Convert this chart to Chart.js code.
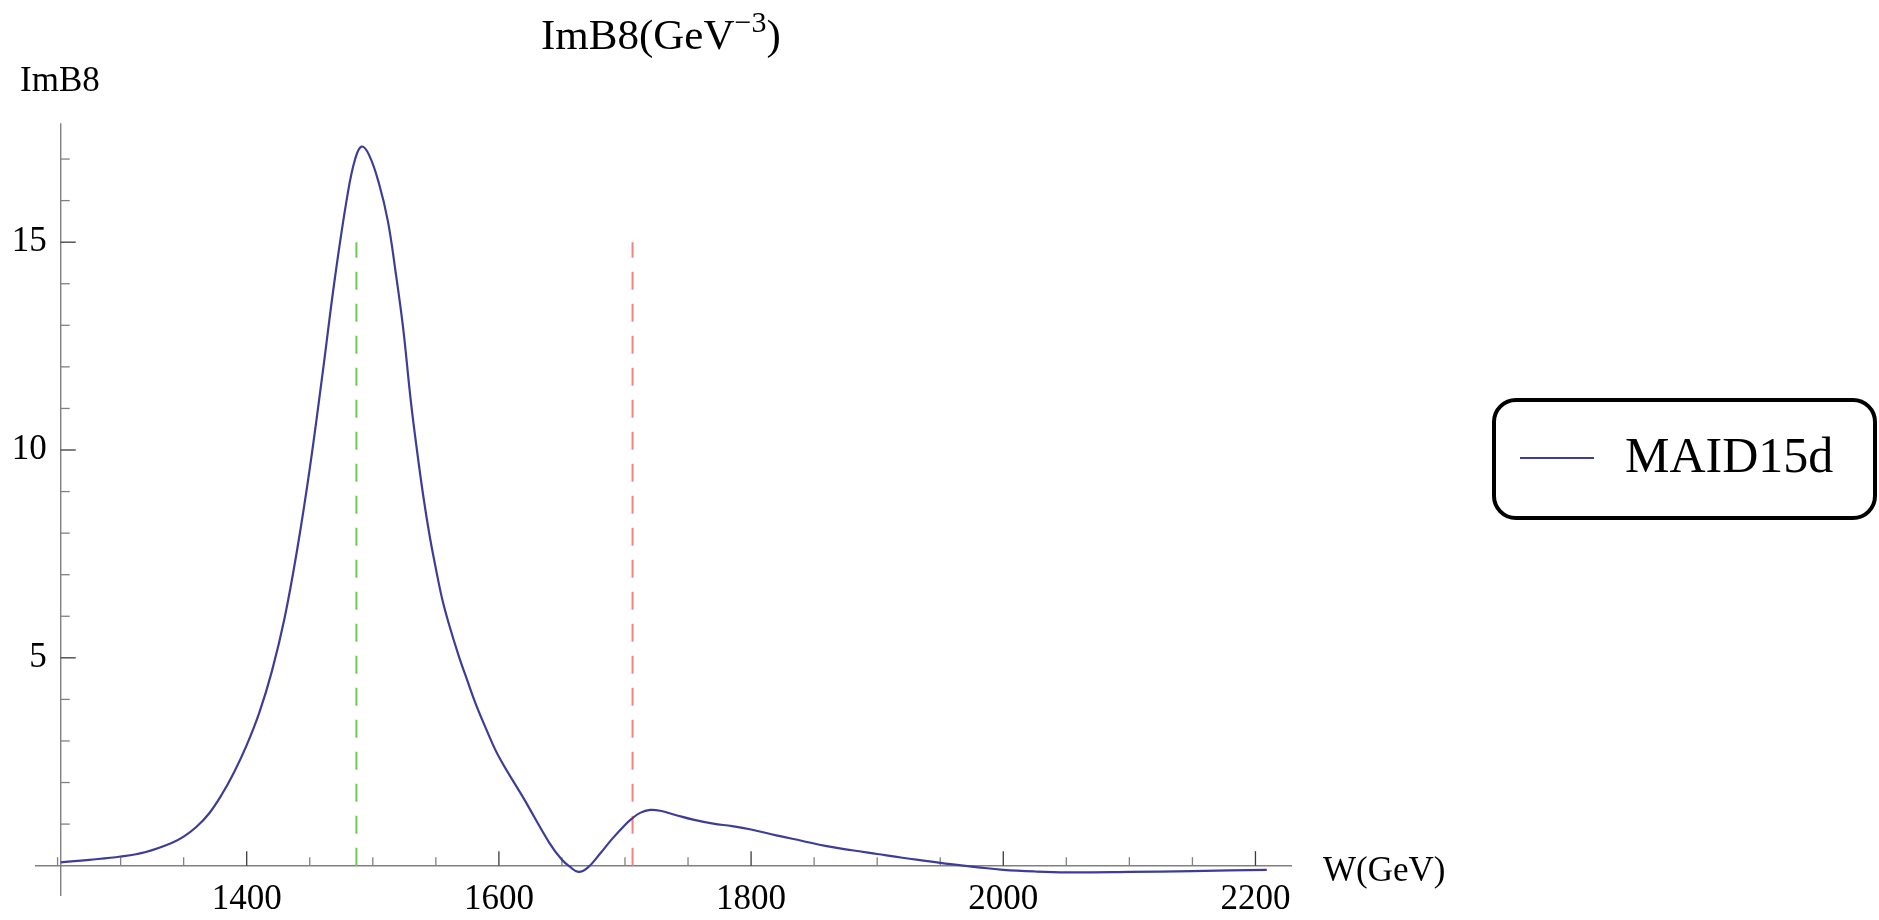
<!DOCTYPE html>
<html>
<head>
<meta charset="utf-8">
<title>ImB8 (MAID15d)</title>
<script src="https://cdn.jsdelivr.net/npm/chart.js@4.4.1/dist/chart.umd.min.js"></script>
<style>
  html, body { margin: 0; padding: 0; background: #ffffff; }
  #wrap {
    position: relative; width: 1879px; height: 920px; overflow: hidden;
    font-family: "Liberation Serif", "Times New Roman", serif; color: #000;
  }
  #plot { position: absolute; left: 0; top: 0; }
  .lbl { position: absolute; line-height: 1; white-space: nowrap; }
  #title { left: 541px; top: 13px; font-size: 43px; }
  #title sup { font-size: 30px; vertical-align: 17px; line-height: 0; }
  #ylab { left: 20px; top: 62px; font-size: 35px; }
  #xlab { left: 1323px; top: 852px; font-size: 35px; }
  #legend {
    position: absolute; left: 1492px; top: 398px; width: 385px; height: 122px;
    box-sizing: border-box; border: 4.5px solid #000; border-radius: 24px; background: #fff;
  }
  #legend .swatch { position: absolute; left: 24px; top: 55px; width: 74px; height: 0; border-top: 2px solid #3d3d99; }
  #legend .name { position: absolute; left: 129px; top: 28px; font-size: 50px; line-height: 1; white-space: nowrap; }
</style>
</head>
<body>
<div id="wrap">
  <canvas id="plot" width="1879" height="920"></canvas>
  <div class="lbl" id="title">ImB8(GeV<sup>&minus;3</sup>)</div>
  <div class="lbl" id="ylab">ImB8</div>
  <div class="lbl" id="xlab">W(GeV)</div>
  <div id="legend"><div class="swatch"></div><div class="name"></div></div>
</div>
<script>
// Imaginary part of the invariant amplitude B8 versus W (MAID15d)
const W = [
  1252.5, 1275, 1300, 1320, 1340, 1350, 1360, 1370, 1380, 1390,
  1400, 1410, 1420, 1430, 1440, 1450, 1460, 1470, 1480, 1486,
  1491, 1497, 1505, 1512, 1518, 1524, 1530, 1535, 1540, 1545,
  1550, 1555, 1560, 1568, 1575, 1582, 1590, 1600, 1620, 1640,
  1650, 1656, 1663, 1670, 1680, 1690, 1700, 1705, 1712, 1720,
  1728, 1740, 1755, 1770, 1785, 1800, 1820, 1840, 1860, 1880,
  1900, 1920, 1940, 1960, 1980, 2000, 2025, 2050, 2100, 2150,
  2209
];
const imB8 = [
  0.08, 0.14, 0.22, 0.33, 0.54, 0.70, 0.93, 1.25, 1.70, 2.25,
  2.90, 3.68, 4.68, 5.95, 7.60, 9.55, 11.80, 14.15, 16.15, 17.00,
  17.30, 17.10, 16.40, 15.50, 14.30, 12.95, 11.22, 10.00, 8.90, 7.95,
  7.15, 6.42, 5.85, 5.06, 4.45, 3.86, 3.28, 2.62, 1.60, 0.55,
  0.14, -0.02, -0.15, -0.06, 0.28, 0.65, 0.98, 1.12, 1.27, 1.34,
  1.32, 1.22, 1.10, 1.01, 0.95, 0.87, 0.73, 0.60, 0.47, 0.37,
  0.28, 0.19, 0.11, 0.03, -0.04, -0.10, -0.14, -0.16, -0.15, -0.13,
  -0.10
];

// Resonance markers (dashed verticals) and their height
const markerW = [1487, 1706];
const markerColors = ['#6ccc4e', '#f28282'];
const markerTop = 15;

// Axis ranges, axis origin and labelled ticks
const xRange = [1232.9, 2228.5];
const yRange = [-0.73, 17.86];
const axisOriginW = 1252.5;
const yLabelEdgeW = 1241.5;
const xMajorTicks = [1400, 1600, 1800, 2000, 2200];
const yMajorTicks = [5, 10, 15];
const xMinorStep = 50;
const yMinorStep = 1;

const seriesName = 'MAID15d';
const curveColor = '#3d3d99';
const axisColor = '#808080';
const majorTickColor = '#3a3a3a';

const tickFont = { family: '"Liberation Serif", "Times New Roman", serif', size: 35, lineHeight: 1.2 };

// Axes drawn through the origin, Mathematica style: ticks point inward
const crossAxes = {
  id: 'crossAxes',
  beforeDatasetsDraw(chart) {
    const { ctx, scales: { x, y } } = chart;
    const x0 = x.getPixelForValue(axisOriginW);
    const y0 = y.getPixelForValue(0);
    ctx.save();
    ctx.lineCap = 'butt';
    ctx.strokeStyle = axisColor;
    ctx.lineWidth = 1.4;
    ctx.beginPath();
    ctx.moveTo(x0, y.top);
    ctx.lineTo(x0, y.bottom);
    ctx.stroke();

    y.ticks.forEach(t => {
      if (t.value === 0) return;
      const major = yMajorTicks.includes(t.value);
      const py = y.getPixelForValue(t.value);
      ctx.strokeStyle = major ? majorTickColor : axisColor;
      ctx.lineWidth = 1.3;
      ctx.beginPath();
      ctx.moveTo(x0, py);
      ctx.lineTo(x0 + (major ? 15 : 9), py);
      ctx.stroke();
    });
    x.ticks.forEach(t => {
      const major = xMajorTicks.includes(t.value);
      const px = x.getPixelForValue(t.value);
      ctx.strokeStyle = major ? majorTickColor : axisColor;
      ctx.lineWidth = 1.3;
      ctx.beginPath();
      ctx.moveTo(px, y0);
      ctx.lineTo(px, y0 - (major ? 14.5 : 8.5));
      ctx.stroke();
    });
    ctx.restore();
  }
};

const curve = W.map((w, i) => ({ x: w, y: imB8[i] }));
const markerSets = markerW.map((w, i) => ({
  label: 'marker' + i,
  data: [{ x: w, y: 0 }, { x: w, y: markerTop }],
  borderColor: markerColors[i],
  borderWidth: 2,
  borderDash: [18, 14],
  pointRadius: 0,
  tension: 0,
  order: 2
}));

const chart = new Chart(document.getElementById('plot'), {
  type: 'line',
  data: {
    datasets: [
      {
        label: seriesName,
        data: curve,
        borderColor: curveColor,
        borderWidth: 2.2,
        pointRadius: 0,
        tension: 0.4,
        fill: false,
        order: 1
      },
      ...markerSets
    ]
  },
  options: {
    responsive: false,
    animation: false,
    devicePixelRatio: 1,
    layout: { padding: { left: 36, top: 123.3, right: 1879 - 1291.4, bottom: 920 - 898.3 } },
    plugins: { legend: { display: false }, title: { display: false }, tooltip: { enabled: false } },
    scales: {
      x: {
        type: 'linear',
        position: { y: 0 },
        min: xRange[0],
        max: xRange[1],
        grid: { display: false, drawTicks: false },
        border: { display: true, color: axisColor, width: 1.4 },
        ticks: {
          stepSize: xMinorStep,
          includeBounds: false,
          autoSkip: false,
          maxRotation: 0,
          padding: 12.8,
          color: '#000',
          font: tickFont,
          callback: v => (xMajorTicks.includes(v) ? String(v) : '')
        },
        afterFit: s => { s.height = 0; }
      },
      y: {
        type: 'linear',
        position: { x: yLabelEdgeW },
        min: yRange[0],
        max: yRange[1],
        grid: { display: false, drawTicks: false },
        border: { display: false },
        ticks: {
          stepSize: yMinorStep,
          includeBounds: false,
          autoSkip: false,
          color: '#000',
          font: tickFont,
          callback: v => (yMajorTicks.includes(v) ? String(v) : '')
        },
        afterFit: s => { s.width = 0; }
      }
    }
  },
  plugins: [crossAxes]
});

document.querySelector('#legend .name').textContent = chart.data.datasets[0].label;
document.querySelector('#legend .swatch').style.borderTopColor = chart.data.datasets[0].borderColor;
</script>
</body>
</html>
